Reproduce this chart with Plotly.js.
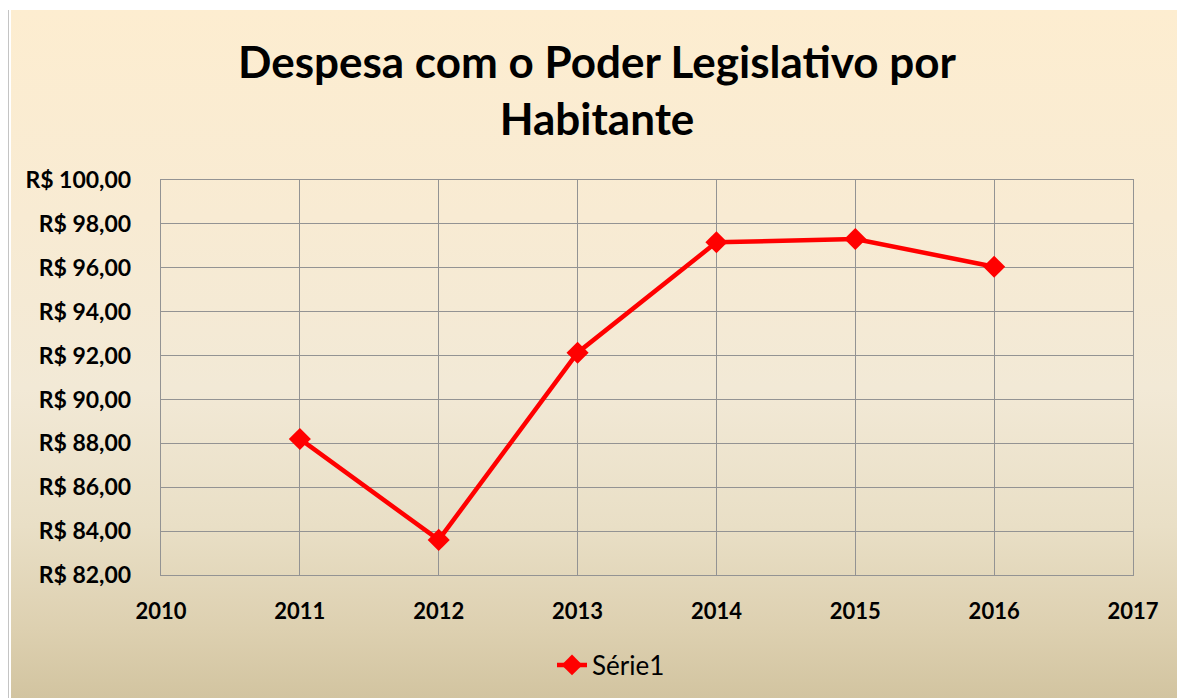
<!DOCTYPE html>
<html>
<head>
<meta charset="utf-8">
<script src="https://cdn.plot.ly/plotly-3.0.1.min.js"></script>
<style>
  html, body { margin: 0; padding: 0; background: #ffffff; }
  #wrap { position: relative; width: 1177px; height: 698px; background: #ffffff; overflow: hidden; }
  #edge { position: absolute; left: 8px; top: 10px; width: 1px; height: 688px; background: #c4c4c4; }
  #chart { position: absolute; left: 11px; top: 10px; width: 1166px; height: 688px;
    background: linear-gradient(to bottom, #fdedd0 0%, #f8ebd3 30%, #f2e9d6 55%, #e9dfc6 75%, #ddd0b0 90%, #d2c4a0 100%); }
</style>
</head>
<body>
<div id="wrap"><div id="edge"></div><div id="chart"></div></div>
<script>
const years = [2011, 2012, 2013, 2014, 2015, 2016];
const values = [88.2, 83.6, 92.13, 97.16, 97.31, 96.05];
const seriesName = 'Série1';
const titleText = 'Despesa com o Poder Legislativo por<br>Habitante';
const yTickVals = [82, 84, 86, 88, 90, 92, 94, 96, 98, 100];
const yTickText = yTickVals.map(v => 'R$ ' + v.toFixed(2).replace('.', ','));
const xTickVals = [2010, 2011, 2012, 2013, 2014, 2015, 2016, 2017];

const fontFam = 'Lato, "Open Sans", sans-serif';
const gridCol = '#939393';

const trace = {
  x: years, y: values, name: seriesName, type: 'scatter', mode: 'lines+markers',
  line: { color: '#ff0000', width: 4.5 },
  marker: { symbol: 'diamond', size: 17, color: '#ff0000' }
};

const layout = {
  width: 1166, height: 688,
  paper_bgcolor: 'rgba(0,0,0,0)', plot_bgcolor: 'rgba(0,0,0,0)',
  margin: { l: 150, r: 44, t: 170, b: 123 },
  title: {
    text: titleText, x: 586 / 1166, xref: 'container', xanchor: 'center',
    y: 1 - 68 / 688, yref: 'container', yanchor: 'top',
    font: { family: fontFam, size: 44, color: '#000000', weight: 'bold' }
  },
  xaxis: {
    range: [2010, 2017], tickvals: xTickVals, ticktext: xTickVals.map(String),
    showgrid: true, gridcolor: gridCol, gridwidth: 1.2,
    showline: true, mirror: true, linecolor: gridCol, linewidth: 1.2,
    zeroline: false, ticks: '', ticklabelstandoff: 16,
    tickfont: { family: fontFam, size: 22, color: '#000000', weight: 'bold' }
  },
  yaxis: {
    range: [82, 100], tickvals: yTickVals, ticktext: yTickText,
    showgrid: true, gridcolor: gridCol, gridwidth: 1.2,
    showline: true, mirror: true, linecolor: gridCol, linewidth: 1.2,
    zeroline: false, ticks: '', ticklabelstandoff: 24,
    tickfont: { family: fontFam, size: 23, color: '#000000', weight: 'bold' }
  },
  showlegend: true,
  legend: {
    orientation: 'h', x: 600 / 1166, xref: 'container', xanchor: 'center',
    y: 1 - 655 / 688, yref: 'container', yanchor: 'middle',
    bgcolor: 'rgba(0,0,0,0)',
    font: { family: fontFam, size: 26, color: '#000000' }
  }
};

Plotly.newPlot('chart', [trace], layout, { displayModeBar: false, staticPlot: true });
</script>
</body>
</html>
